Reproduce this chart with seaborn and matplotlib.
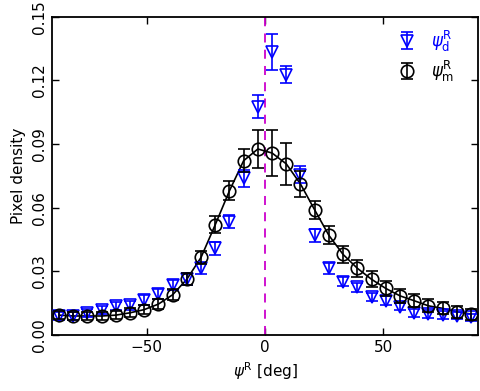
import numpy as np
import pandas as pd
import seaborn as sns
import matplotlib.pyplot as plt

# bin centres [deg]
psi = [-87, -81, -75, -69, -63, -57, -51, -45, -39, -33, -27, -21, -15, -9, -3,
       3, 9, 15, 21, 27, 33, 39, 45, 51, 57, 63, 69, 75, 81, 87]

# psi_m^R (black circles)
dens_m = [0.0094, 0.0090, 0.0090, 0.0090, 0.0094, 0.0105, 0.0120, 0.0146, 0.0190, 0.0263,
          0.0366, 0.0520, 0.0680, 0.0822, 0.0877, 0.0858, 0.0807, 0.0712, 0.0590, 0.0470,
          0.0380, 0.0315, 0.0263, 0.0220, 0.0185, 0.0162, 0.0138, 0.0126, 0.0110, 0.0099]
err_m = [0.0020, 0.0020, 0.0020, 0.0020, 0.0020, 0.0022, 0.0022, 0.0024, 0.0026, 0.0028,
         0.0032, 0.0040, 0.0045, 0.0055, 0.0090, 0.0110, 0.0100, 0.0060, 0.0044, 0.0043,
         0.0038, 0.0039, 0.0037, 0.0035, 0.0033, 0.0030, 0.0030, 0.0028, 0.0028, 0.0026]

# psi_d^R (blue triangles)
dens_d = [0.0090, 0.0090, 0.0103, 0.0118, 0.0138, 0.0140, 0.0165, 0.0193, 0.0236, 0.0264,
          0.0314, 0.0409, 0.0535, 0.0740, 0.1076, 0.1335, 0.1226, 0.0755, 0.0470, 0.0315,
          0.0252, 0.0225, 0.0180, 0.0162, 0.0134, 0.0105, 0.0098, 0.0095, 0.0092, 0.0083]
err_d = [0.0018, 0.0018, 0.0018, 0.0020, 0.0020, 0.0020, 0.0022, 0.0022, 0.0024, 0.0026,
         0.0026, 0.0030, 0.0032, 0.0040, 0.0054, 0.0084, 0.0040, 0.0040, 0.0032, 0.0026,
         0.0022, 0.0022, 0.0020, 0.0020, 0.0018, 0.0018, 0.0018, 0.0018, 0.0018, 0.0018]

df = pd.DataFrame({"psi": psi, "m": dens_m, "em": err_m, "d": dens_d, "ed": err_d})

sns.set_style("ticks", {"axes.edgecolor": "black", "text.color": "black",
                        "xtick.color": "black", "ytick.color": "black",
                        "axes.labelcolor": "black"})
plt.rcParams["mathtext.fontset"] = "dejavusans"
plt.rcParams["font.family"] = ["DejaVu Sans"]

fig = plt.figure(figsize=(4.8, 3.91), dpi=100)
ax = fig.add_axes([0.108, 0.143, 0.888, 0.814])

ax.axvline(0, color="#cc00cc", ls=(0, (5, 4)), lw=1.3, zorder=1)

sns.lineplot(data=df, x="psi", y="m", color="black", lw=1.2, ax=ax, zorder=2)

hd = ax.errorbar(df["psi"], df["d"], yerr=df["ed"], fmt="v", mfc="none", mec="blue",
                 ecolor="blue", color="blue", ms=8, mew=1.2, capsize=4, elinewidth=1.2,
                 capthick=1.2, zorder=3)
hm = ax.errorbar(df["psi"], df["m"], yerr=df["em"], fmt="o", mfc="none", mec="black",
                 ecolor="black", color="black", ms=9, mew=1.2, capsize=4, elinewidth=1.2,
                 capthick=1.2, zorder=4)

ax.set_xlim(-90, 90)
ax.set_ylim(0, 0.15)
ax.set_xticks([-50, 0, 50])
ax.set_yticks([0.0, 0.03, 0.06, 0.09, 0.12, 0.15])
ax.set_yticklabels(["0.00", "0.03", "0.06", "0.09", "0.12", "0.15"], rotation=90, va="center")
ax.tick_params(direction="in", top=True, right=True, length=5, width=1, labelsize=11,
               colors="black")
for s in ax.spines.values():
    s.set_linewidth(1.3)
    s.set_color("black")

ax.set_xlabel(r"$\psi^{\rm R}$ [deg]", fontsize=11, labelpad=4, color="black")
ax.set_ylabel("Pixel density", fontsize=11, labelpad=4, color="black")

leg = ax.legend([hd, hm], [r"$\psi^{\rm R}_{\rm d}$", r"$\psi^{\rm R}_{\rm m}$"],
                loc="upper right", bbox_to_anchor=(0.975, 1.005), frameon=False,
                fontsize=12, markerfirst=True, handletextpad=0.6, handlelength=1.6,
                borderaxespad=0.4, labelspacing=0.3)
leg.get_texts()[0].set_color("blue")
leg.get_texts()[1].set_color("black")

fig.savefig("out.png", dpi=100)
